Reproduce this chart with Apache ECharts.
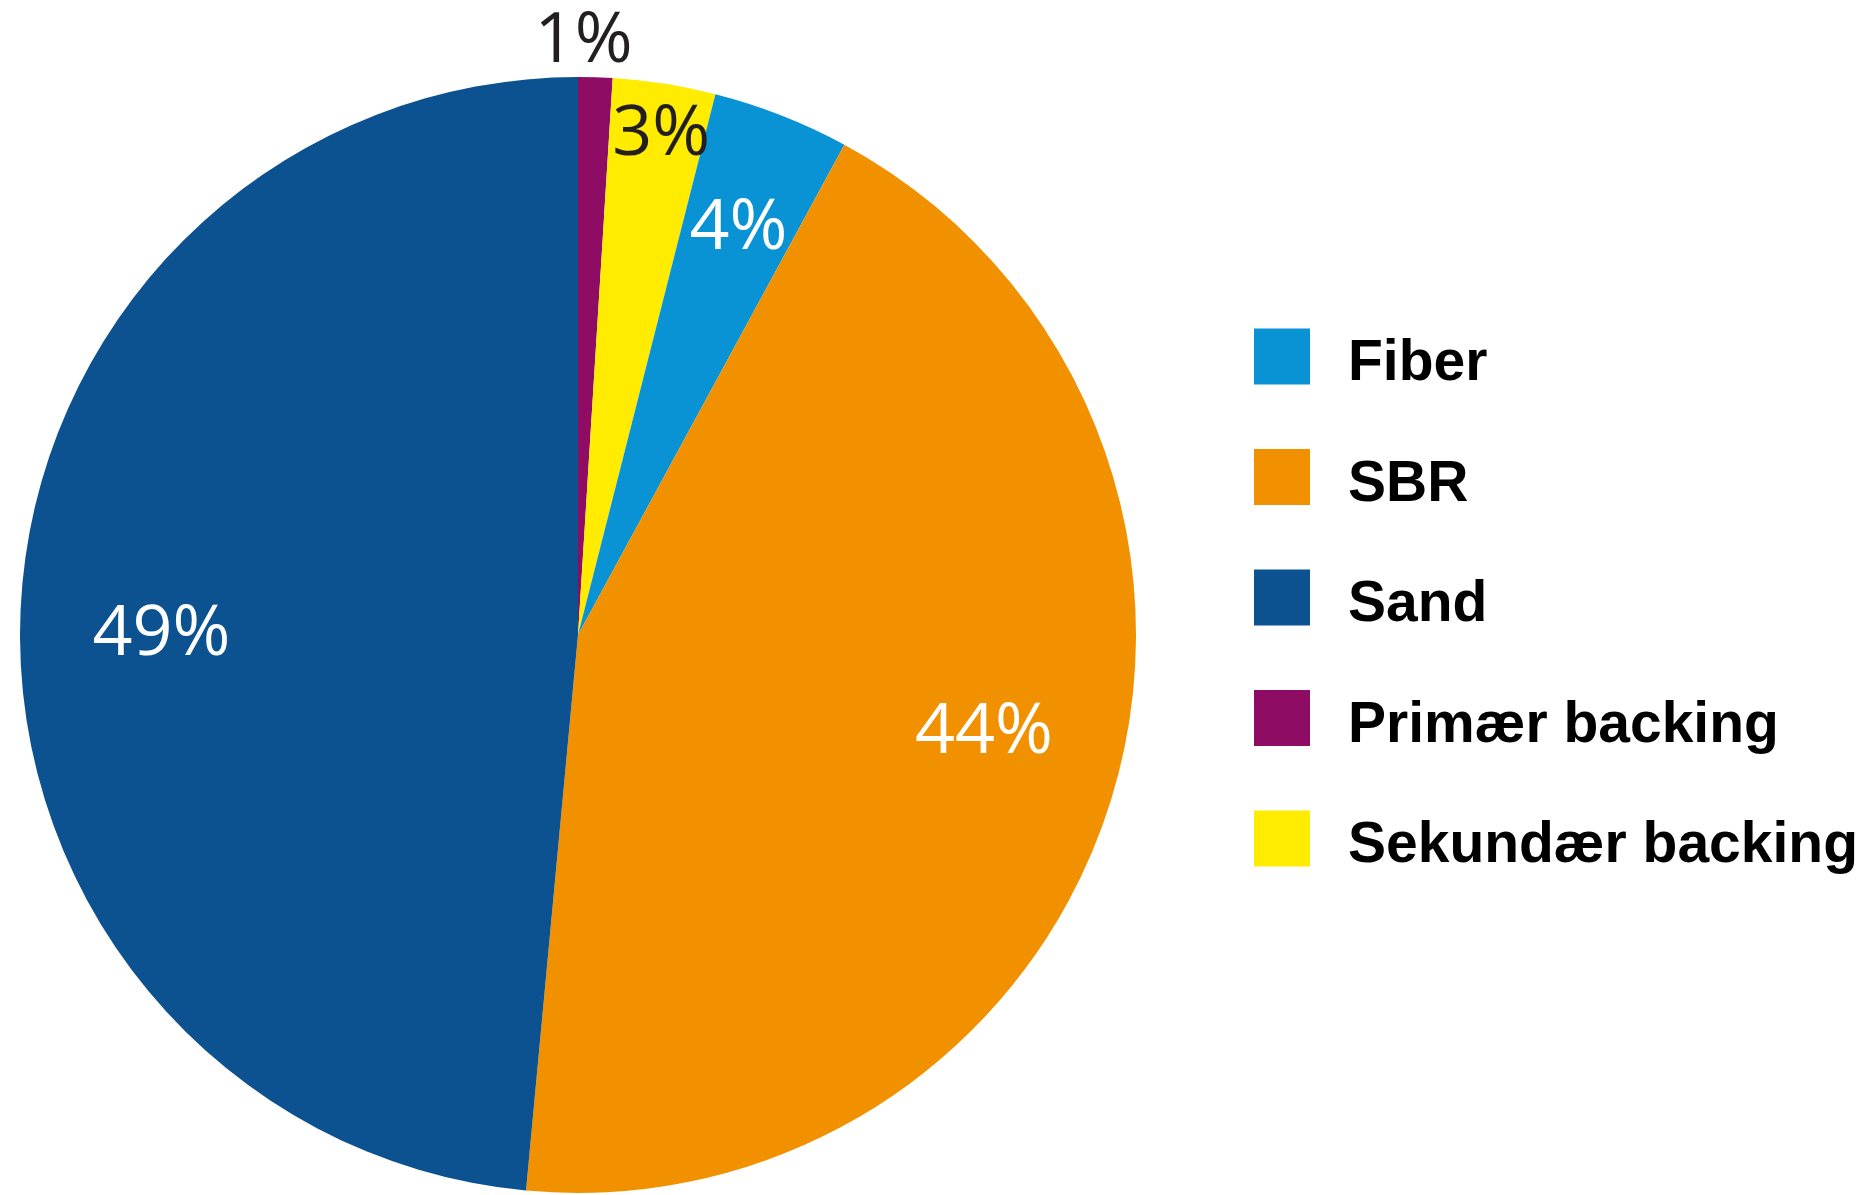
<!DOCTYPE html>
<html>
<head>
<meta charset="utf-8">
<script src="https://cdn.jsdelivr.net/npm/echarts@6/dist/echarts.min.js"></script>
<style>
html,body{margin:0;padding:0;background:#fff;}
#chart{width:1872px;height:1195px;}
</style>
</head>
<body>
<div id="chart"></div>
<script>
// Data (clockwise from 12 o'clock)
var categories = ['Primær backing', 'Sekundær backing', 'Fiber', 'SBR', 'Sand'];
var values = [1, 3, 4, 44, 49];
var legendOrder = ['Fiber', 'SBR', 'Sand', 'Primær backing', 'Sekundær backing'];

// Styling
var colors = ['#8f0c64', '#ffec00', '#0a93d4', '#f29100', '#0c5190'];
var labelColors = ['#231f20', '#231f20', '#ffffff', '#ffffff', '#ffffff'];
var labelRadius = [1188, 1016, 874, 828, 828];
var labelNudge = [[-13, 4], [4, 5], [0, 4], [7, -23], [0, 20]];

var center = [578, 635];
var radius = 558;

var chart = echarts.init(document.getElementById('chart'));

var mainData = categories.map(function (name, i) {
  return { name: name, value: values[i], itemStyle: { color: colors[i] } };
});

var series = [{
  type: 'pie',
  center: center,
  radius: [0, radius],
  startAngle: 90,
  clockwise: true,
  label: { show: false },
  labelLine: { show: false },
  itemStyle: { borderWidth: 0 },
  emphasis: { disabled: true },
  data: mainData
}];

// Transparent overlay pies that only carry the percentage labels
categories.forEach(function (name, k) {
  series.push({
    type: 'pie',
    silent: true,
    center: center,
    radius: [0, labelRadius[k]],
    startAngle: 90,
    clockwise: true,
    z: 5,
    emphasis: { disabled: true },
    labelLine: { show: false },
    itemStyle: { color: 'rgba(0,0,0,0)', borderWidth: 0 },
    data: categories.map(function (n, i) {
      return {
        name: n,
        value: values[i],
        label: {
          show: i === k,
          position: 'inside',
          offset: labelNudge[i],
          formatter: values[i] + '%',
          color: labelColors[i],
          fontFamily: 'Open Sans',
          fontSize: 70,
          fontWeight: 'normal'
        }
      };
    })
  });
});

chart.setOption({
  animation: false,
  backgroundColor: '#ffffff',
  legend: {
    orient: 'vertical',
    left: 1249,
    top: 315,
    data: legendOrder,
    icon: 'rect',
    itemWidth: 56,
    itemHeight: 56,
    itemGap: 47.5,
    selectedMode: false,
    formatter: function (name) { return '{t|' + name + '}'; },
    textStyle: {
      fontFamily: 'Liberation Sans, Arial, sans-serif',
      fontWeight: 'bold',
      fontSize: 57,
      color: '#000000',
      padding: [0, 0, 0, 33],
      rich: {
        t: {
          fontFamily: 'Liberation Sans, Arial, sans-serif',
          fontWeight: 'bold',
          fontSize: 57,
          color: '#000000',
          lineHeight: 57,
          padding: [16, 0, 0, 0]
        }
      }
    }
  },
  series: series
});
</script>
</body>
</html>
